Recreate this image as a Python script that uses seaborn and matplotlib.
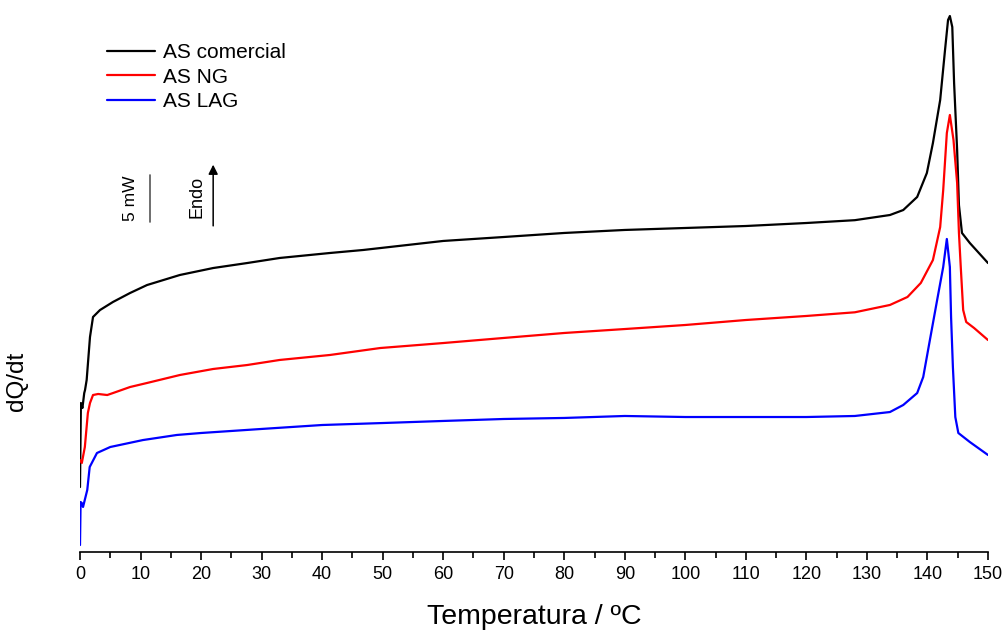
import numpy as np
import pandas as pd
import seaborn as sns
import matplotlib.pyplot as plt
from matplotlib.ticker import MultipleLocator

# temperatures (ºC) and heat flow (mW, arbitrary offset)
t_comercial = [0, 0.15, 0.4, 0.7, 0.83, 1.1, 1.65, 2.15, 3.3, 5.45, 8.26, 11.07, 16.5, 22, 27.6,
               33, 41.3, 46.8, 60, 70, 80, 90, 100, 110, 120, 128, 133.8, 136.0, 138.3, 139.9,
               140.9, 142.1, 142.9, 143.4, 143.7, 144.1, 144.4, 144.9, 145.2, 145.7, 147.0, 150]
q_comercial = [6.91, 15.85, 15.32, 16.91, 17.23, 18.30, 22.87, 25.00, 25.74, 26.60, 27.55, 28.40,
               29.47, 30.21, 30.74, 31.28, 31.81, 32.13, 33.09, 33.51, 33.94, 34.26, 34.47, 34.68,
               35.00, 35.30, 35.85, 36.38, 37.77, 40.32, 43.51, 48.09, 53.40, 56.60, 57.02, 55.85,
               49.89, 42.77, 36.91, 33.94, 32.87, 30.74]

t_ng = [0, 0.3, 0.8, 1.3, 1.65, 2.15, 3.0, 4.5, 5.45, 8.26, 11.07, 16.5, 22, 27.6, 33, 41.3,
        49.6, 60, 70, 80, 90, 100, 110, 120, 128, 133.8, 136.7, 138.9, 140.9, 142.1, 142.6,
        143.2, 143.7, 144.3, 144.9, 145.2, 145.5, 145.9, 146.4, 147.7, 150]
q_ng = [9.79, 9.47, 11.17, 14.79, 15.85, 16.70, 16.81, 16.70, 16.91, 17.55, 17.98, 18.83, 19.47,
        19.89, 20.43, 20.96, 21.70, 22.23, 22.77, 23.30, 23.72, 24.15, 24.68, 25.11, 25.50,
        26.28, 27.13, 28.62, 31.06, 34.57, 38.50, 44.57, 46.49, 43.83, 39.26, 33.94, 30.32,
        25.74, 24.47, 23.83, 22.55]

t_lag = [0, 0.1, 0.3, 0.5, 1.2, 1.6, 2.8, 5, 10.4, 16, 20, 30, 40, 50, 60, 70, 80, 90, 100, 110,
         120, 128, 133.8, 136.0, 138.3, 139.3, 140.4, 141.6, 142.6, 143.2, 143.7, 143.9, 144.2,
         144.6, 145.1, 147.0, 150]
q_lag = [0.74, 5.32, 5.21, 4.79, 6.60, 9.04, 10.53, 11.17, 11.91, 12.45, 12.66, 13.09, 13.51,
         13.72, 13.94, 14.15, 14.26, 14.47, 14.36, 14.36, 14.36, 14.47, 14.89, 15.64, 16.91,
         18.62, 22.55, 26.81, 30.32, 33.30, 30.32, 25.00, 19.68, 14.36, 12.66, 11.70, 10.32]

series = ["AS comercial", "AS NG", "AS LAG"]
colors = ["#000000", "#ff0000", "#0000ff"]

df = pd.concat([
    pd.DataFrame({"T": t, "Q": q, "muestra": name})
    for t, q, name in zip([t_comercial, t_ng, t_lag], [q_comercial, q_ng, q_lag], series)
], ignore_index=True)

sns.set_theme(style="white")
plt.rcParams["font.family"] = ["Liberation Sans", "DejaVu Sans"]
plt.rcParams["text.color"] = "black"
plt.rcParams["axes.labelcolor"] = "black"
plt.rcParams["xtick.color"] = "black"

fig = plt.figure(figsize=(10.08, 6.3), dpi=100)
ax = fig.add_axes([80 / 1008, 78 / 630, 908 / 1008, 552 / 630])

sns.lineplot(data=df, x="T", y="Q", hue="muestra", palette=dict(zip(series, colors)),
             sort=False, estimator=None, linewidth=1.6, ax=ax)

ax.set_xlim(0, 150)
ax.set_ylim(0, 552 / 9.4)
ax.xaxis.set_major_locator(MultipleLocator(10))
ax.xaxis.set_minor_locator(MultipleLocator(5))
ax.tick_params(axis="x", which="major", direction="out", length=6, width=1.2,
               labelsize=13, pad=4, bottom=True)
ax.tick_params(axis="x", which="minor", direction="out", length=4, width=1.2, bottom=True)
ax.set_yticks([])
for side in ["left", "right", "top"]:
    ax.spines[side].set_visible(False)
ax.spines["bottom"].set_linewidth(1.2)
ax.spines["bottom"].set_color("black")

ax.set_xlabel("Temperatura / ºC", fontsize=20.5)
ax.xaxis.set_label_coords(0.5, -0.095)
ax.set_ylabel("dQ/dt", fontsize=17.5)
ax.yaxis.set_label_coords(-0.057, 0.31)

# scale bar and endo arrow
ax.plot([11.6, 11.6], [35.1, 40.1], color="#555555", linewidth=1.2)
ax.text(8.4, 37.6, "5 mW", rotation=90, ha="center", va="center", fontsize=12.5)
ax.annotate("", xy=(22.0, 41.5), xytext=(22.0, 34.4),
            arrowprops=dict(arrowstyle="-|>", color="black", lw=1.1, mutation_scale=14))
ax.text(19.3, 37.8, "Endo", rotation=90, ha="center", va="center", fontsize=13)

ax.legend(loc="upper left", bbox_to_anchor=(0.021, 0.937), frameon=False, fontsize=15,
          handlelength=2.3, handletextpad=0.38, labelspacing=0.27, borderaxespad=0)

fig.savefig("out.png", dpi=100)
